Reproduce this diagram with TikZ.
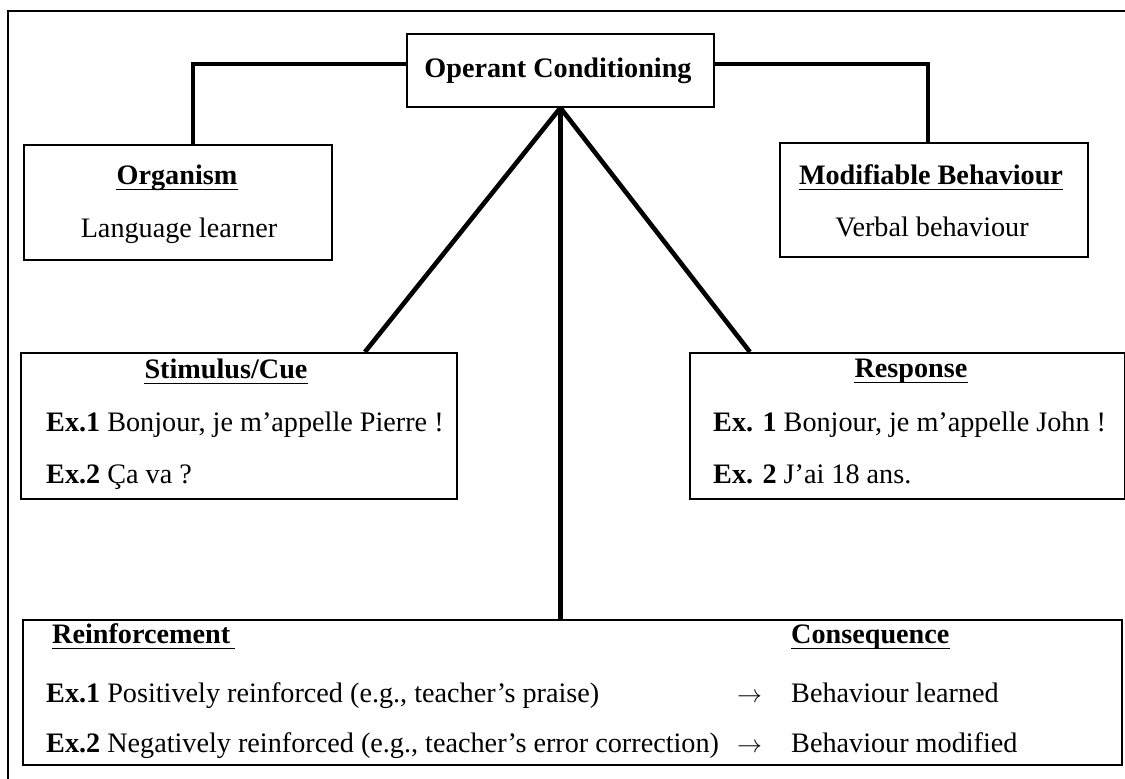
\documentclass[tikz,border=0pt]{standalone}
\usepackage{fontspec}
\setmainfont{Liberation Serif}

\begin{document}
\begin{tikzpicture}[x=1pt,y=-1pt,
  every node/.style={font=\fontsize{28.2}{34}\selectfont},
  box/.style={draw, line width=1.8pt, rectangle, inner sep=0pt, anchor=north west},
  conn/.style={line width=4.6pt},
  frameline/.style={line width=1.4pt},
  ulline/.style={line width=1.7pt},
  txt/.style={anchor=base west, inner sep=0pt},
  ctxt/.style={anchor=base, inner sep=0pt}]

\useasboundingbox (0,0) rectangle (1125,779);
\fill[white] (0,0) rectangle (1125,779);
\draw[frameline] (8,11) rectangle (1135,790);

% boxes
\node[box, minimum width=307pt, minimum height=73pt]  (oc)    at (406,33)  {};
\node[box, minimum width=308pt, minimum height=115pt] (org)   at (23,144)  {};
\node[box, minimum width=308pt, minimum height=114pt] (mod)   at (779,142) {};
\node[box, minimum width=436pt, minimum height=146pt] (stim)  at (20,352)  {};
\node[box, minimum width=435pt, minimum height=146pt] (resp)  at (689,352) {};
\node[box, minimum width=1099pt, minimum height=145pt] (reinf) at (22,619) {};

% connectors
\draw[conn] ([yshift=6.5pt]oc.west) -| ([xshift=15pt]org.north);
\draw[conn] ([yshift=6.5pt]oc.east) -| ([xshift=-6pt]mod.north);
\draw[conn] (oc.south) -- ([xshift=126pt]stim.north);
\draw[conn] (oc.south) -- ([xshift=-157.5pt]resp.north);
\draw[conn] (oc.south) -- (oc.south |- reinf.north);

% top
\node[ctxt] (ocT) at (558,77) {\textbf{Operant Conditioning}};

% organism / behaviour
\node[ctxt] (orgT) at (177,184) {\textbf{Organism}};
\node[ctxt] (orgS) at (179,237) {Language learner};
\node[ctxt] (modT) at (931,184) {\textbf{Modifiable Behaviour}};
\node[ctxt] (modS) at (932,236) {Verbal behaviour};

% stimulus
\node[ctxt] (stimT) at (226,378) {\textbf{Stimulus/Cue}};
\node[txt] (stimA) at (46,431) {\textbf{Ex.1} Bonjour, je m’appelle Pierre !};
\node[txt] (stimB) at (46,483) {\textbf{Ex.2} Ça va ?};

% response
\node[ctxt] (respT) at (911,377) {\textbf{Response}};
\node[txt] (respA) at (713,431) {\textbf{Ex. 1} Bonjour, je m’appelle John !};
\node[txt] (respB) at (713,483) {\textbf{Ex. 2} J’ai 18 ans.};

% reinforcement / consequence
\node[txt] (reinT) at (52,643) {\textbf{Reinforcement}};
\node[txt] (consT) at (791,643) {\textbf{Consequence}};
\node[txt] (reinA) at (46,702) {\textbf{Ex.1} Positively reinforced (e.g., teacher’s praise)};
\node[txt] (reinB) at (46,752) {\textbf{Ex.2} Negatively reinforced (e.g., teacher’s error correction)};
\node[txt] (arrA) at (737,702) {$\rightarrow$};
\node[txt] (arrB) at (737,752) {$\rightarrow$};
\node[txt] (consA) at (791,702) {Behaviour learned};
\node[txt] (consB) at (791,752) {Behaviour modified};

% heading underlines
\foreach \n in {orgT,modT,stimT,respT,consT}
  \draw[ulline] ([yshift=-5.5pt]\n.base west) -- ([yshift=-5.5pt]\n.base east);
\draw[ulline] ([yshift=-5.5pt]reinT.base west) -- ([xshift=5pt,yshift=-5.5pt]reinT.base east);
\end{tikzpicture}
\end{document}
